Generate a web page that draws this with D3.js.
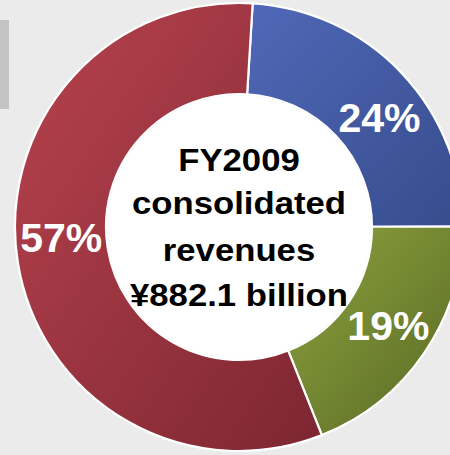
<!DOCTYPE html>
<html>
<head>
<meta charset="utf-8">
<script src="https://cdn.jsdelivr.net/npm/d3@7"></script>
<style>
  html, body { margin: 0; padding: 0; background: #ebebeb; }
  svg { display: block; }
</style>
</head>
<body>
<script>
// Revenue breakdown by segment (percent of consolidated revenues)
const segments = ["Segment A", "Segment B", "Segment C"];
const shares = [24, 19, 57];
const shareLabels = ["24%", "19%", "57%"];
const centerLines = ["FY2009", "consolidated", "revenues", "¥882.1 billion"];

const W = 450, H = 455;
const cx = 239, cy = 227;
const outerR = 224, innerR = 133;

const palette = [
  { light: "#5068b8", dark: "#364c8c" },   // blue
  { light: "#8fa23e", dark: "#566824" },   // green
  { light: "#b8434e", dark: "#7c2632" }    // red
];

const svg = d3.select("body").append("svg")
  .attr("width", W).attr("height", H);

svg.append("rect").attr("width", W).attr("height", H).attr("fill", "#ebebeb");
// small grey tab at the left edge
svg.append("rect").attr("x", 0).attr("y", 20).attr("width", 9).attr("height", 89).attr("fill", "#c3c3c3");

const defs = svg.append("defs");
palette.forEach((c, i) => {
  const g = defs.append("linearGradient")
    .attr("id", "grad" + i)
    .attr("x1", 0).attr("y1", 0).attr("x2", 1).attr("y2", 1);
  g.append("stop").attr("offset", "0%").attr("stop-color", c.light);
  g.append("stop").attr("offset", "100%").attr("stop-color", c.dark);
});

const startDeg = 3.5;
const pie = d3.pie().sort(null)
  .startAngle(startDeg * Math.PI / 180)
  .endAngle((startDeg + 360) * Math.PI / 180);
const arcs = pie(shares);

const arc = d3.arc().innerRadius(innerR).outerRadius(outerR);

const g = svg.append("g").attr("transform", `translate(${cx},${cy})`);

g.selectAll("path.slice")
  .data(arcs)
  .join("path")
  .attr("class", "slice")
  .attr("d", arc)
  .attr("fill", (d, i) => `url(#grad${i})`)
  .attr("stroke", "#ffffff")
  .attr("stroke-width", 2.2)
  .attr("stroke-linejoin", "round");

// white hole
g.append("circle").attr("r", innerR - 1).attr("fill", "#ffffff");

// percentage labels (baseline placed near each slice's centroid)
const labelArc = d3.arc().innerRadius(178).outerRadius(178);
const nudges = [[11, 27], [2, 13], [-2, -3]];
g.selectAll("text.pct")
  .data(arcs)
  .join("text")
  .attr("class", "pct")
  .attr("x", (d, i) => labelArc.centroid(d)[0] + nudges[i][0])
  .attr("y", (d, i) => labelArc.centroid(d)[1] + nudges[i][1])
  .attr("text-anchor", "middle")
  .attr("font-family", "Liberation Sans, Arial, sans-serif")
  .attr("font-weight", "bold")
  .attr("font-size", 41)
  .attr("fill", "#ffffff")
  .text((d, i) => shareLabels[i]);

// centre caption
const baselines = [171, 214, 261, 306];
const cap = svg.append("g")
  .attr("transform", `translate(${cx},0) scale(1.12,1)`);
cap.selectAll("text")
  .data(centerLines)
  .join("text")
  .attr("x", 0)
  .attr("y", (d, i) => baselines[i])
  .attr("text-anchor", "middle")
  .attr("font-family", "Liberation Sans, Arial, sans-serif")
  .attr("font-weight", "bold")
  .attr("font-size", 31)
  .attr("fill", "#000000")
  .text(d => d);
</script>
</body>
</html>
